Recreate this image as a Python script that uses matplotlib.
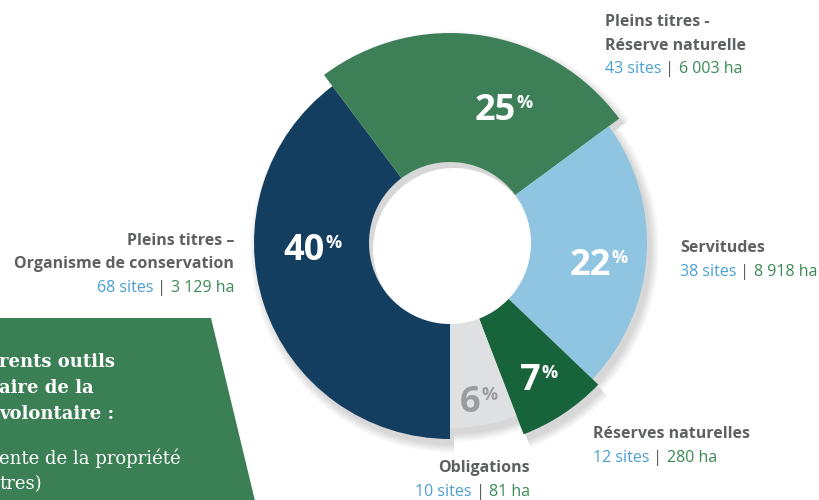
import numpy as np
import matplotlib
matplotlib.use("Agg")
import matplotlib.pyplot as plt
from matplotlib.patches import Wedge, Polygon

# data (sites per tool, clockwise from the bottom)
names = ["Pleins titres –\nOrganisme de conservation",
         "Pleins titres -\nRéserve naturelle",
         "Servitudes",
         "Réserves naturelles",
         "Obligations"]
sites = [68, 43, 38, 12, 10]
hectares = ["3 129", "6 003", "8 918", "280", "81"]
pct_labels = ["40", "25", "22", "7", "6"]

# style
colors = ["#133e60", "#3d8057", "#8fc5e1", "#17643a", "#dfe0e2"]
pct_colors = ["white", "white", "white", "white", "#9b9c9e"]
outer = [196, 210, 197, 205, 185]
inner = 81
cx, cy = 450, 257
BLUE, GREEN, GREY = "#4a9fd2", "#3b8a55", "#5f6062"

fig = plt.figure(figsize=(8.2, 5), dpi=100)
ax = fig.add_axes([0, 0, 1, 1])
ax.set_xlim(0, 820)
ax.set_ylim(0, 500)
ax.axis("off")

frac = np.array(sites) / np.sum(sites)
ends = 270 - np.cumsum(frac) * 360
starts = np.concatenate([[270], ends[:-1]])

# soft drop shadow
for k in range(10):
    for i in range(len(sites)):
        ax.add_patch(Wedge((cx + 4, cy - 6), outer[i] + k * 0.9, ends[i], starts[i],
                           width=outer[i] + k * 0.9 - inner, color="black",
                           alpha=0.015, lw=0))

for i in range(len(sites)):
    ax.add_patch(Wedge((cx, cy), outer[i], ends[i], starts[i],
                       width=outer[i] - inner, color=colors[i], lw=0))

fig.canvas.draw()
renderer = fig.canvas.get_renderer()
inv = ax.transData.inverted()


def width_of(t):
    bb = t.get_window_extent(renderer)
    return inv.transform((bb.x1, 0))[0] - inv.transform((bb.x0, 0))[0]


def pieces(x, y, parts, ha="left", size=12, family="Open Sans", weight="normal"):
    # draw coloured pieces one after another on a line
    objs = []
    for s, c in parts:
        objs.append(ax.text(0, y, s, color=c, fontsize=size, family=family,
                            weight=weight, va="baseline"))
    total = sum(width_of(o) for o in objs)
    pos = x - total if ha == "right" else x
    for o in objs:
        o.set_x(pos)
        pos += width_of(o)


# percentage labels
pct_pos = [(304, 240), (495, 380), (590, 225), (530, 110), (470, 88)]
for i, (px, py) in enumerate(pct_pos):
    t = ax.text(px, py, pct_labels[i], color=pct_colors[i], fontsize=26,
                family="Open Sans", weight="bold", ha="center", va="baseline")
    w = width_of(t)
    ax.text(px + w / 2 + 1, py + 12, "%", color=pct_colors[i], fontsize=13,
            family="Open Sans", weight="bold", ha="left", va="baseline")

# category labels
lab_pos = [(234, 255, "right"), (605, 474, "left"), (680, 248, "left"),
           (593, 62, "left"), (530, 28, "right")]
for i, (lx, ly, ha) in enumerate(lab_pos):
    lines = names[i].split("\n")
    for j, line in enumerate(lines):
        ax.text(lx, ly - j * 23.5, line, color=GREY, fontsize=11.5,
                family="Open Sans", weight="bold", ha=ha, va="baseline")
    yb = ly - len(lines) * 23.5
    pieces(lx, yb, [(f"{sites[i]} sites", BLUE), (" | ", GREY),
                    (f"{hectares[i]} ha", GREEN)], ha=ha, size=11.5)

# green side panel (cut off)
ax.add_patch(Polygon([(-5, 182), (211, 182), (256, -5), (-5, -5)],
                     closed=True, color="#3b7f55", lw=0))
serif = "DejaVu Serif"
ax.text(-1, 133, "rents outils", color="white", fontsize=13, family=serif, weight="bold")
ax.text(-1, 107, "aire de la", color="white", fontsize=13, family=serif, weight="bold")
ax.text(-1, 81, "volontaire :", color="white", fontsize=13, family=serif, weight="bold")
ax.text(-1, 36, "ente de la propriété", color="white", fontsize=13, family=serif)
ax.text(-1, 11, "tres)", color="white", fontsize=13, family=serif)

fig.savefig("out.png", dpi=100)
